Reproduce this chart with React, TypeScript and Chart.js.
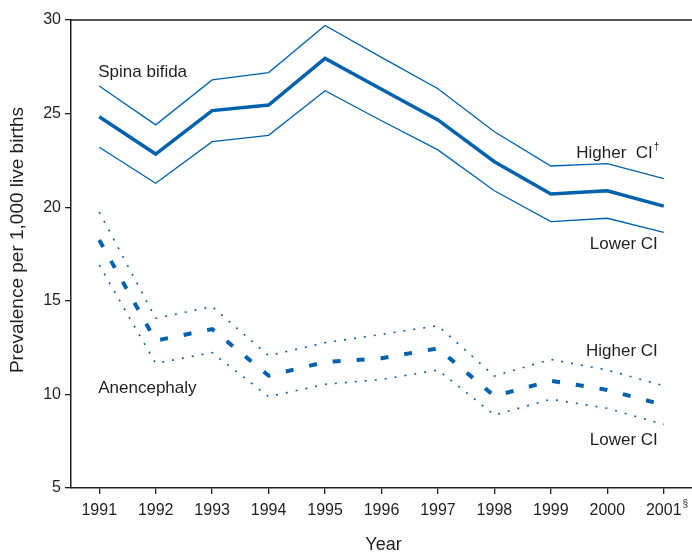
import React, { useEffect, useRef } from 'react';
import { Chart, registerables } from 'chart.js';

Chart.register(...registerables);

// ---- Data ----
const years = ['1991', '1992', '1993', '1994', '1995', '1996', '1997', '1998', '1999', '2000', '2001'];
const spinaBifida = [24.83, 22.84, 25.16, 25.46, 27.95, 26.3, 24.66, 22.43, 20.7, 20.88, 20.06];
const spinaBifidaHigherCI = [26.47, 24.4, 26.8, 27.19, 29.71, 28.0, 26.33, 24.03, 22.2, 22.33, 21.52];
const spinaBifidaLowerCI = [23.2, 21.28, 23.5, 23.84, 26.22, 24.62, 23.06, 20.88, 19.23, 19.41, 18.66];
const anencephaly = [18.25, 12.87, 13.49, 11.0, 11.73, 11.93, 12.46, 9.91, 10.73, 10.24, 9.43];
const anencephalyHigherCI = [19.74, 14.06, 14.69, 12.07, 12.76, 13.21, 13.67, 10.98, 11.87, 11.3, 10.46];
const anencephalyLowerCI = [16.91, 11.66, 12.23, 9.88, 10.54, 10.8, 11.3, 8.9, 9.74, 9.26, 8.4];
const yMin = 5;
const yMax = 30;
const yStep = 5;

const xTitle = 'Year';
const yTitle = 'Prevalence per 1,000 live births';

// ---- Styles ----
const BLUE = '#0062ad';
const TEXT = '#231f20';
const AXIS = '#231f20';
const FONT = '"Liberation Sans", Arial, Helvetica, sans-serif';

type Note = { text: string; idx: number; value: number; align: CanvasTextAlign; dx: number; sup?: string };

const notes: Note[] = [
  { text: 'Spina bifida', idx: 0, value: 26.96, align: 'left', dx: -1 },
  { text: 'Higher  CI', idx: 10, value: 22.63, align: 'right', dx: -11, sup: '\u2020' },
  { text: 'Lower CI', idx: 10, value: 17.77, align: 'right', dx: -6 },
  { text: 'Anencephaly', idx: 0, value: 10.07, align: 'left', dx: -1 },
  { text: 'Higher CI', idx: 10, value: 12.05, align: 'right', dx: -6 },
  { text: 'Lower CI', idx: 10, value: 7.3, align: 'right', dx: -6 },
];

const annotationPlugin = {
  id: 'annotations',
  afterDraw(chart: any) {
    const { ctx, chartArea, scales } = chart;
    const x = scales.x;
    const y = scales.y;
    ctx.save();
    // top frame line
    ctx.strokeStyle = AXIS;
    ctx.lineWidth = 1.5;
    ctx.beginPath();
    ctx.moveTo(chartArea.left - 0.75, chartArea.top);
    ctx.lineTo(chartArea.right, chartArea.top);
    ctx.stroke();

    ctx.fillStyle = TEXT;
    ctx.textBaseline = 'alphabetic';
    for (const n of notes) {
      ctx.font = `17px ${FONT}`;
      ctx.textAlign = n.align;
      const px = x.getPixelForValue(n.idx) + n.dx;
      const py = y.getPixelForValue(n.value);
      ctx.fillText(n.text, px, py);
      if (n.sup) {
        ctx.font = `10px ${FONT}`;
        ctx.textAlign = 'left';
        ctx.fillText(n.sup, px + 1, py - 8);
      }
    }

    // superscript after last year tick label
    ctx.font = `16px ${FONT}`;
    const lastIdx = years.length - 1;
    const w = ctx.measureText(years[lastIdx]).width;
    ctx.font = `10px ${FONT}`;
    ctx.textAlign = 'left';
    ctx.fillText('\u00a7', x.getPixelForValue(lastIdx) + w / 2 + 1, chartArea.bottom + 19);

    // axis titles
    ctx.font = `18px ${FONT}`;
    ctx.textAlign = 'center';
    ctx.fillText(xTitle, (chartArea.left + chartArea.right) / 2 + 2, chart.height - 2);

    ctx.save();
    ctx.translate(18, 240);
    ctx.rotate(-Math.PI / 2);
    ctx.font = `19px ${FONT}`;
    ctx.textAlign = 'center';
    ctx.textBaseline = 'middle';
    ctx.fillText(yTitle, 0, 0);
    ctx.restore();

    ctx.restore();
  },
};

export default function App() {
  const canvasRef = useRef<HTMLCanvasElement | null>(null);

  useEffect(() => {
    document.body.style.margin = '0';
    const canvas = canvasRef.current;
    if (!canvas) return;

    const base = { pointRadius: 0, pointHoverRadius: 0, fill: false, tension: 0, borderColor: BLUE, borderCapStyle: 'butt' as const, borderJoinStyle: 'miter' as const };

    const chart = new Chart(canvas, {
      type: 'line',
      data: {
        labels: years,
        datasets: [
          { ...base, label: 'Spina bifida', data: spinaBifida, borderWidth: 3.5 },
          { ...base, label: 'Spina bifida higher CI', data: spinaBifidaHigherCI, borderWidth: 1.3 },
          { ...base, label: 'Spina bifida lower CI', data: spinaBifidaLowerCI, borderWidth: 1.3 },
          { ...base, label: 'Anencephaly', data: anencephaly, borderWidth: 4, borderDash: [8, 16] },
          { ...base, label: 'Anencephaly higher CI', data: anencephalyHigherCI, borderWidth: 1.6, borderDash: [2, 8] },
          { ...base, label: 'Anencephaly lower CI', data: anencephalyLowerCI, borderWidth: 1.6, borderDash: [2, 8] },
        ],
      },
      options: {
        responsive: false,
        animation: false,
        layout: { padding: { top: 20, right: 0, left: 0, bottom: 0 } },
        plugins: {
          legend: { display: false },
          tooltip: { enabled: false },
          title: { display: false },
        },
        scales: {
          x: {
            type: 'category',
            offset: true,
            grid: { display: true, drawOnChartArea: false, drawTicks: true, tickLength: 6, color: AXIS, lineWidth: 1.3, offset: false },
            border: { display: true, color: AXIS, width: 1.5 },
            ticks: { color: TEXT, font: { family: FONT, size: 16 }, padding: 7, maxRotation: 0, autoSkip: false },
            afterFit: (scale: any) => { scale.height = 64; },
          },
          y: {
            min: yMin,
            max: yMax,
            grid: { display: true, drawOnChartArea: false, drawTicks: true, tickLength: 6, color: AXIS, lineWidth: 1.3 },
            border: { display: true, color: AXIS, width: 1.5 },
            ticks: { stepSize: yStep, color: TEXT, font: { family: FONT, size: 16 }, padding: 4 },
            afterFit: (scale: any) => { scale.width = 71; },
          },
        },
      },
      plugins: [annotationPlugin],
    });

    return () => chart.destroy();
  }, []);

  return (
    <div style={{ width: 692, height: 552, position: 'relative' }}>
      <canvas ref={canvasRef} width={692} height={552} style={{ display: 'block' }} />
    </div>
  );
}
